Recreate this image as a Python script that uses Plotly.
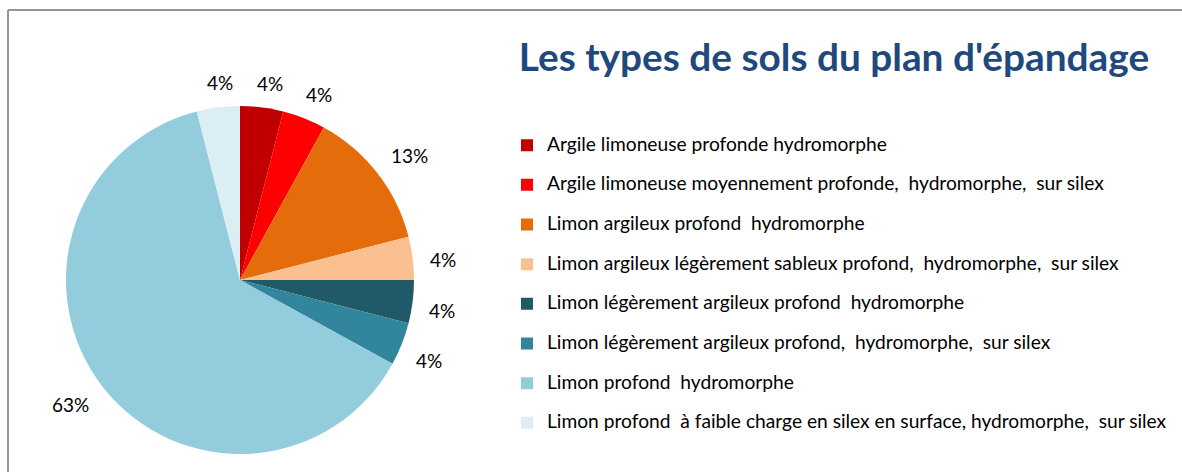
import math
import plotly.graph_objects as go

# Soil types of the spreading plan and their share of the area (%)
soil_types = [
    "Argile limoneuse profonde hydromorphe",
    "Argile limoneuse moyennement profonde,  hydromorphe,  sur silex",
    "Limon argileux profond  hydromorphe",
    "Limon argileux légèrement sableux profond,  hydromorphe,  sur silex",
    "Limon légèrement argileux profond  hydromorphe",
    "Limon légèrement argileux profond,  hydromorphe,  sur silex",
    "Limon profond  hydromorphe",
    "Limon profond  à faible charge en silex en surface, hydromorphe,  sur silex",
]
shares = [4, 4, 13, 4, 4, 4, 63, 4]
slice_colors = ["#C00000", "#FF0000", "#E46C0A", "#FAC090",
                "#215968", "#31859C", "#93CDDD", "#DBEEF4"]

W, H = 1182, 472
cx, cy, r = 240, 280, 174
label_size = 19

# legend entries: visible text plus an empty second line to space the rows
legend_labels = [f"<span style='font-size:19.2px'>{s}</span><br> " for s in soil_types]

fig = go.Figure(
    go.Pie(
        labels=legend_labels,
        values=shares,
        sort=False,
        direction="clockwise",
        rotation=0,
        marker=dict(colors=slice_colors, line=dict(width=0)),
        textinfo="none",
        domain=dict(x=[(cx - r) / W, (cx + r) / W],
                    y=[(H - cy - r) / H, (H - cy + r) / H]),
        hovertext=soil_types,
        hoverinfo="text+percent",
    )
)

# percentage labels just outside each slice, near its mid-angle
total = sum(shares)
annotations = []
cum = 0
for v in shares:
    mid = (cum + v / 2) / total * 2 * math.pi + math.radians(1.5)
    cum += v
    dx, dy = math.sin(mid), -math.cos(mid)
    text = f"{v}%"
    half_w = 6.8 * len(text)
    half_h = 7.5
    dist = r + 15.5 + abs(dx) * half_w + abs(dy) * half_h
    px, py = cx + dist * dx, cy + dist * dy
    annotations.append(dict(
        x=px / W, y=1 - py / H, xref="paper", yref="paper",
        text=text, showarrow=False, xanchor="center", yanchor="middle",
        font=dict(family="Lato", size=label_size, color="#000000"),
    ))

fig.update_layout(
    width=W,
    height=H,
    margin=dict(l=0, r=0, t=0, b=0),
    paper_bgcolor="white",
    plot_bgcolor="white",
    font=dict(family="Lato", color="#000000"),
    title=dict(
        text="<b>Les types de sols du plan d'épandage</b>",
        x=834 / W, xanchor="center",
        y=1 - 57 / H, yanchor="middle",
        font=dict(family="Lato", size=38.8, color="#1F497D"),
    ),
    legend=dict(
        x=507 / W, xanchor="left",
        y=1 - 129.5 / H, yanchor="top",
        font=dict(family="Lato", size=14.1, color="#000000"),
        valign="top",
        bgcolor="rgba(0,0,0,0)",
        itemclick=False,
    ),
    annotations=annotations,
    shapes=[
        # frame: left edge and top edge only
        dict(type="line", xref="paper", yref="paper",
             x0=8 / W, x1=8 / W, y0=0, y1=1 - 10 / H,
             line=dict(color="#969696", width=2)),
        dict(type="line", xref="paper", yref="paper",
             x0=8 / W, x1=1, y0=1 - 10 / H, y1=1 - 10 / H,
             line=dict(color="#969696", width=2)),
    ],
)

fig.write_html("out.html", config={"displayModeBar": False})
